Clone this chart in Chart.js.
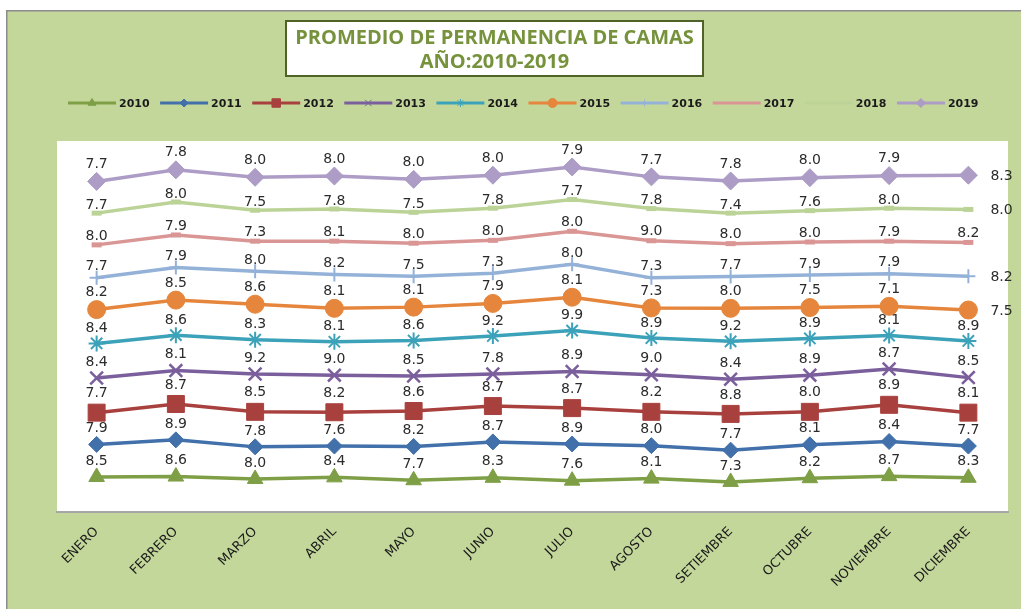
<!DOCTYPE html>
<html><head><meta charset="utf-8">
<script src="https://cdn.jsdelivr.net/npm/chart.js@4/dist/chart.umd.min.js"></script>
<style>html,body{margin:0;padding:0;background:#fff}#wrap{width:1021px;height:609px}</style>
</head><body><div id="wrap"><canvas id="c" width="1021" height="609"></canvas></div>
<script>
const months = ['ENERO','FEBRERO','MARZO','ABRIL','MAYO','JUNIO','JULIO','AGOSTO','SETIEMBRE','OCTUBRE','NOVIEMBRE','DICIEMBRE'];
const years = ['2010','2011','2012','2013','2014','2015','2016','2017','2018','2019'];
const v2010 = [8.5, 8.6, 8.0, 8.4, 7.7, 8.3, 7.6, 8.1, 7.3, 8.2, 8.7, 8.3];
const v2011 = [7.9, 8.9, 7.8, 7.6, 8.2, 8.7, 8.9, 8.0, 7.7, 8.1, 8.4, 7.7];
const v2012 = [7.7, 8.7, 8.5, 8.2, 8.6, 8.7, 8.7, 8.2, 8.8, 8.0, 8.9, 8.1];
const v2013 = [8.4, 8.1, 9.2, 9.0, 8.5, 7.8, 8.9, 9.0, 8.4, 8.9, 8.7, 8.5];
const v2014 = [8.4, 8.6, 8.3, 8.1, 8.6, 9.2, 9.9, 8.9, 9.2, 8.9, 8.1, 8.9];
const v2015 = [8.2, 8.5, 8.6, 8.1, 8.1, 7.9, 8.1, 7.3, 8.0, 7.5, 7.1, 7.5];
const v2016 = [7.7, 7.9, 8.0, 8.2, 7.5, 7.3, 8.0, 7.3, 7.7, 7.9, 7.9, 8.2];
const v2017 = [8.0, 7.9, 7.3, 8.1, 8.0, 8.0, 8.0, 9.0, 8.0, 8.0, 7.9, 8.2];
const v2018 = [7.7, 8.0, 7.5, 7.8, 7.5, 7.8, 7.7, 7.8, 7.4, 7.6, 8.0, 8.0];
const v2019 = [7.7, 7.8, 8.0, 8.0, 8.0, 8.0, 7.9, 7.7, 7.8, 8.0, 7.9, 8.3];
const seriesValues = [v2010, v2011, v2012, v2013, v2014, v2015, v2016, v2017, v2018, v2019];

// styles
const colors = ['#7E9F45','#4170AA','#A8403E','#7B5E9C','#3CA2B9','#E5863C','#94B2D8','#D99694','#BBD396','#AC9CC6'];
const markers = ['triangle','rectRot','rect','crossRot','star','circle','cross','line','line','rectRot'];
const radii = [9, 8, 12, 9, 8, 9, 7, 5, 5, 9];
const markerBorder = [1, 1, 1, 2.5, 2, 1, 2, 5, 5, 1];
const labelOffsets = [16, 16, 19, 16, 15, 17, 11, 9, 8, 17];
// labels placed to the right of the last point for these series
const rightLabelSeries = [5, 6, 8, 9];

const W = 1021, H = 609;

const decor = {
  id: 'decor',
  beforeDraw(chart) {
    const ctx = chart.ctx, a = chart.chartArea;
    ctx.save();
    ctx.fillStyle = '#fff'; ctx.fillRect(0, 0, W, H);
    ctx.fillStyle = '#C4D79B'; ctx.fillRect(6, 10, W - 6, H - 10);
    ctx.strokeStyle = '#8C8C8C'; ctx.lineWidth = 1.5;
    ctx.beginPath(); ctx.moveTo(6.75, H); ctx.lineTo(6.75, 10.75); ctx.lineTo(W, 10.75); ctx.stroke();
    ctx.fillStyle = '#fff'; ctx.fillRect(a.left, a.top, a.right - a.left, a.bottom - a.top);
    // title box
    ctx.fillStyle = '#fff'; ctx.fillRect(285, 20, 419, 57);
    ctx.strokeStyle = '#4F6228'; ctx.lineWidth = 2; ctx.strokeRect(286, 21, 417, 55);
    ctx.fillStyle = '#76923C'; ctx.font = 'bold 20px "Open Sans"'; ctx.textAlign = 'center'; ctx.textBaseline = 'middle';
    ctx.fillText('PROMEDIO DE PERMANENCIA DE CAMAS', 494.5, 38);
    ctx.fillText('AÑO:2010-2019', 494.5, 62);
    // legend
    ctx.font = 'bold 11px "DejaVu Sans"'; ctx.textAlign = 'left';
    for (let i = 0; i < years.length; i++) {
      const x0 = 68 + i * 92.1, y = 103;
      ctx.strokeStyle = colors[i]; ctx.lineWidth = 3;
      ctx.beginPath(); ctx.moveTo(x0, y); ctx.lineTo(x0 + 48, y); ctx.stroke();
      ctx.fillStyle = colors[i];
      ctx.lineWidth = 1;
      Chart.helpers.drawPoint(ctx, {pointStyle: markers[i], radius: radii[i] * 0.5, borderWidth: Math.min(markerBorder[i], 1.5), rotation: 0}, x0 + 24, y);
      ctx.fillStyle = '#1a1a1a';
      ctx.fillText(years[i], x0 + 51, y + 1);
    }
    ctx.restore();
  },
  afterDatasetsDraw(chart) {
    const ctx = chart.ctx;
    ctx.save();
    ctx.font = '14px "DejaVu Sans"'; ctx.fillStyle = '#2b2b2b'; ctx.textBaseline = 'middle';
    chart.data.datasets.forEach((ds, i) => {
      const meta = chart.getDatasetMeta(i);
      meta.data.forEach((pt, j) => {
        const txt = seriesValues[i][j].toFixed(1);
        if (j === months.length - 1 && rightLabelSeries.includes(i)) {
          ctx.textAlign = 'left';
          ctx.fillText(txt, pt.x + 22, pt.y + 1);
        } else {
          ctx.textAlign = 'center';
          ctx.fillText(txt, pt.x, pt.y - labelOffsets[i]);
        }
      });
    });
    ctx.restore();
  }
};

const datasets = years.map((y, i) => ({
  label: y,
  data: seriesValues[i],
  borderColor: colors[i],
  backgroundColor: colors[i],
  borderWidth: 3.5,
  pointStyle: markers[i],
  pointRadius: radii[i],
  pointHoverRadius: radii[i],
  pointBorderWidth: markerBorder[i],
  pointBackgroundColor: colors[i],
  pointBorderColor: colors[i],
  tension: 0,
  fill: false
}));

new Chart(document.getElementById('c'), {
  type: 'line',
  data: { labels: months, datasets },
  options: {
    responsive: false,
    animation: false,
    devicePixelRatio: 1,
    layout: { padding: { left: 57, right: 13, top: 141, bottom: 0 } },
    plugins: { legend: { display: false }, title: { display: false }, tooltip: { enabled: false } },
    scales: {
      x: {
        offset: true,
        grid: { display: false, drawTicks: false },
        border: { display: true, color: '#A6A6A6', width: 2 },
        ticks: { autoSkip: false, maxRotation: 45, minRotation: 45, padding: 12, color: '#1a1a1a', font: { family: 'DejaVu Sans', size: 13 } },
        afterFit(s) { s.height = 97; }
      },
      y: { display: false, stacked: true, min: 0, max: 90 }
    }
  },
  plugins: [decor]
});
</script></body></html>
